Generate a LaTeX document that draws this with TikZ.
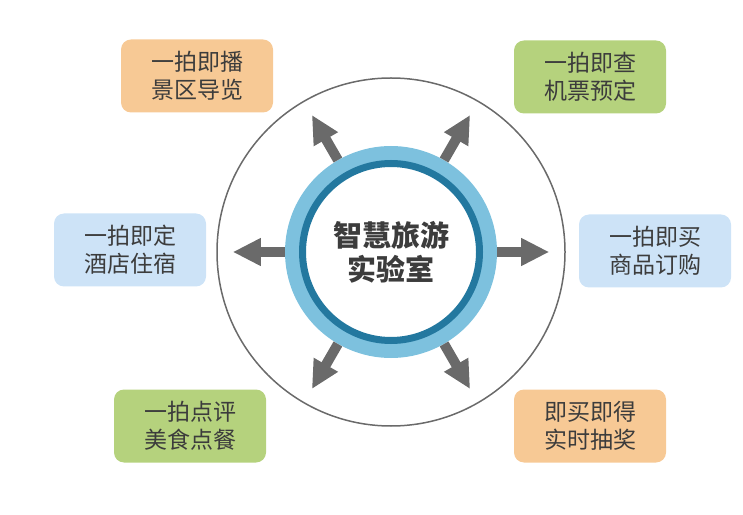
\documentclass[tikz,border=0pt]{standalone}
\usepackage{fontspec}
\newfontfamily\cjk{Noto Sans CJK SC}
\usetikzlibrary{arrows.meta}
\definecolor{boxorange}{HTML}{F7C995}
\definecolor{boxgreen}{HTML}{B5D27D}
\definecolor{boxblue}{HTML}{CDE3F7}
\definecolor{ringlight}{HTML}{7DC1DE}
\definecolor{ringdark}{HTML}{23789F}
\definecolor{arrowgray}{HTML}{6A6A6A}
\definecolor{textgray}{HTML}{3C3C3C}
\tikzset{
    tag/.style={rounded corners=10pt, minimum width=152pt, minimum height=73pt,
        align=center, text=textgray, font=\cjk\fontsize{23}{28}\selectfont},
    ray/.style={arrowgray, line width=10pt, -{Triangle[width=26pt, length=28pt]}}
}
\begin{document}
\begin{tikzpicture}[x=1pt, y=1pt]
        \useasboundingbox (0,0) rectangle (743,514);
        % centre
        \node [circle, fill=ringlight, minimum size=212pt, inner sep=0pt] (hub) at (391,262) {};
        \draw [ringdark, line width=7pt, fill=white] (hub.center) circle (88.5);
        \node [align=center, text=textgray, font=\cjk\bfseries\fontsize{29}{34}\selectfont] (title) at (hub.center) {智慧旅游\\实验室};
        \draw [arrowgray, line width=1.5pt] (hub.center) circle (174);
        \foreach \a in {0,60,120,180,240,300}
            \draw [ray] (hub.\a) -- ++(\a:52);
        % boxes
        \node [tag, fill=boxorange] (guide) at (197,438) {一拍即播\\景区导览};
        \node [tag, fill=boxgreen] (ticket) at (590,437) {一拍即查\\机票预定};
        \node [tag, fill=boxblue] (hotel) at (130,264) {一拍即定\\酒店住宿};
        \node [tag, fill=boxblue] (goods) at (655,263) {一拍即买\\商品订购};
        \node [tag, fill=boxgreen] (food) at (190,88) {一拍点评\\美食点餐};
        \node [tag, fill=boxorange] (prize) at (590,88) {即买即得\\实时抽奖};
\end{tikzpicture}
\end{document}
